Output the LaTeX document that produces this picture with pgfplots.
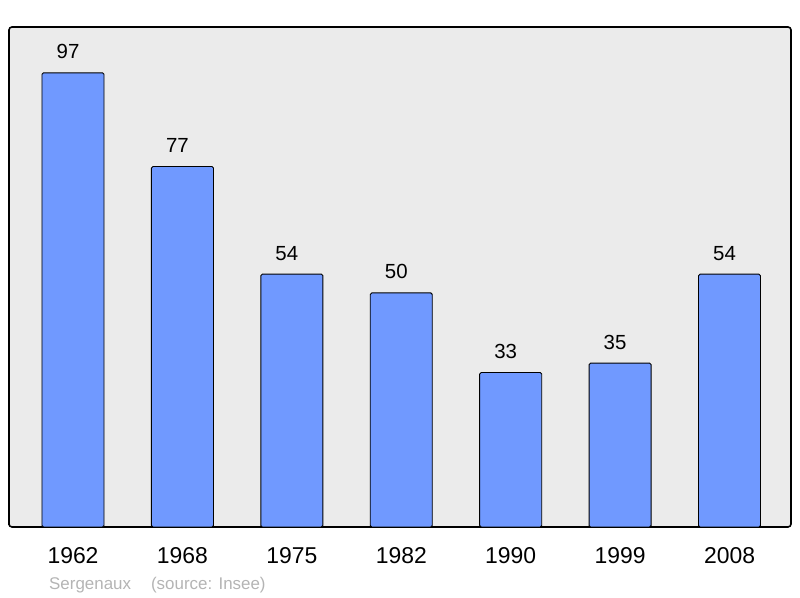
\documentclass[border=0pt]{standalone}
\usepackage{pgfplots}
\pgfplotsset{compat=1.18}
\usepackage{fontspec}
\setmainfont{Liberation Sans}
\definecolor{barfill}{HTML}{7099FF}
\definecolor{bgc}{HTML}{EBEBEB}
\definecolor{srcgray}{HTML}{B4B4B4}
\begin{document}
\begin{tikzpicture}[x=1bp,y=1bp]
\path[use as bounding box] (0,0) rectangle (800,598);
\begin{axis}[
  at={(9bp,71bp)}, anchor=south west,
  scale only axis, width=782bp, height=500bp,
  xmin=-0.585, xmax=6.562, ymin=0, ymax=106.8,
  axis background/.style={fill=bgc},
  axis line style={line width=1.6pt, rounded corners=3bp},
  xtick=data, xticklabels={1962,1968,1975,1982,1990,1999,2008},
  ytick=\empty,
  major tick length=0pt,
  xticklabel style={font=\fontsize{23}{25}\selectfont, yshift=-17bp},
  /pgf/number format/assume math mode=true,
  ybar, bar width=0.567,
  nodes near coords,
  nodes near coords style={font=\fontsize{20.5}{22}\selectfont, yshift=10bp, xshift=-5bp},
  clip=false,
]
\addplot[fill=barfill, draw=black, line width=0.9pt, rounded corners=1.5bp] coordinates {(0,97) (1,77) (2,54) (3,50) (4,33) (5,35) (6,54)};
\end{axis}
\node[anchor=base west, text=srcgray, font=\fontsize{17}{19}\selectfont, inner sep=0] at (49,8) {Sergenaux\hspace{20bp}(source: Insee)};
\end{tikzpicture}
\end{document}
